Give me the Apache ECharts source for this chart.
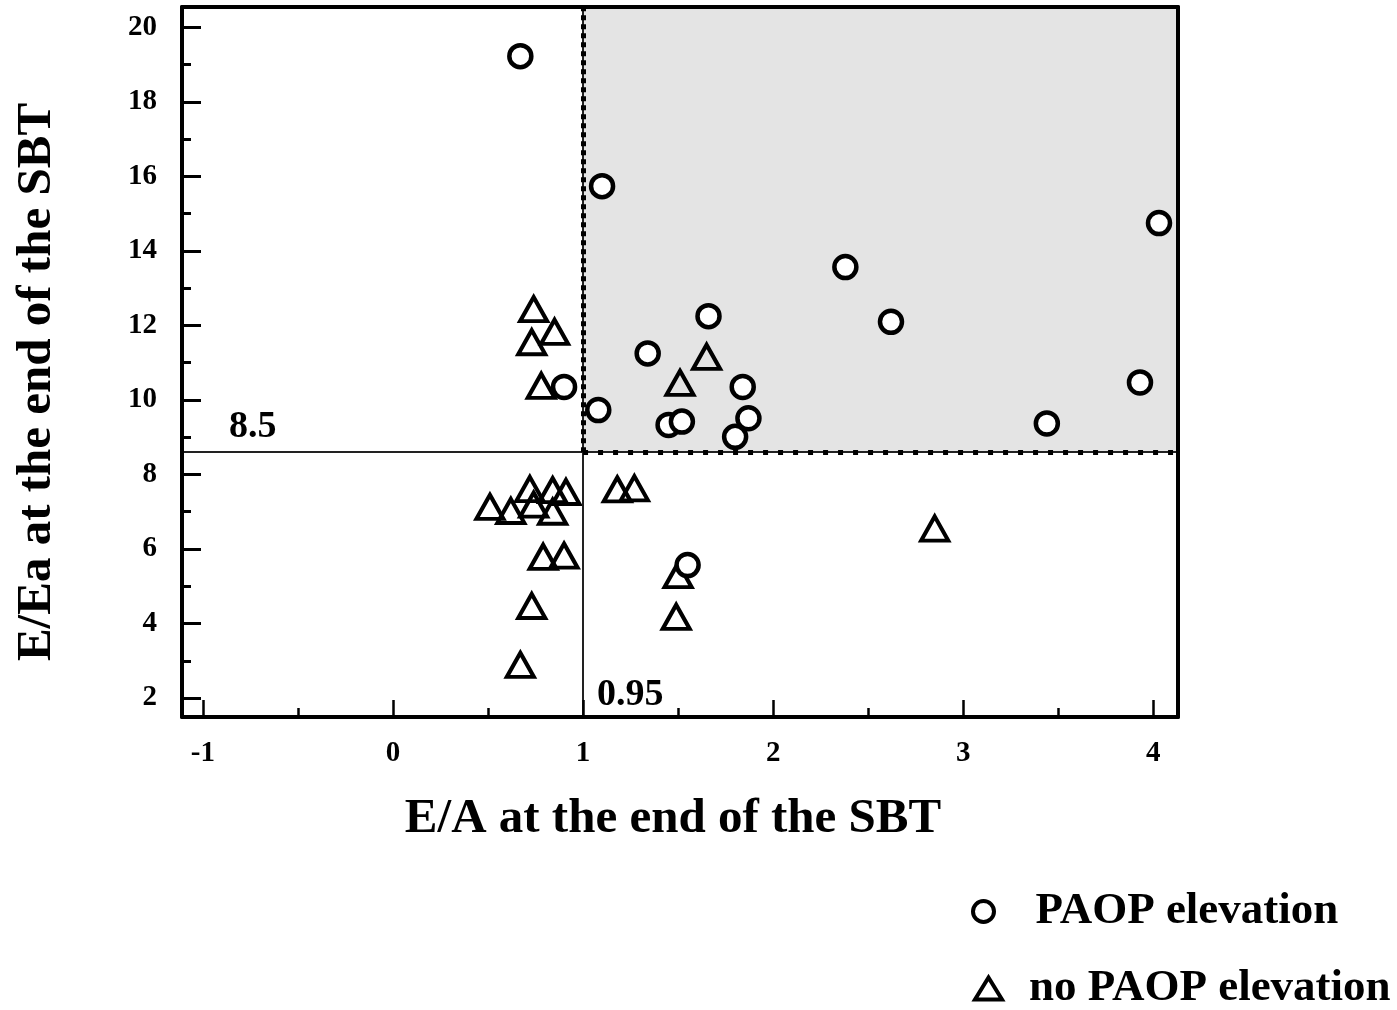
<!DOCTYPE html>
<html><head><meta charset="utf-8">
<script src="https://cdn.jsdelivr.net/npm/echarts@6/dist/echarts.min.js"></script>
<style>html,body{margin:0;padding:0;background:#fff}#c{width:1397px;height:1010px}</style>
</head><body><div id="c"></div><script>
// ---- data ----
const seriesNames = ['PAOP elevation', 'no PAOP elevation'];
const paopX = [0.67, 1.10, 2.38, 4.03, 1.66, 2.62, 1.34, 0.90, 1.84, 3.93, 1.08, 1.45, 1.52, 1.87, 1.80, 3.44, 1.55];
const paopY = [19.23, 15.74, 13.57, 14.75, 12.25, 12.10, 11.25, 10.35, 10.35, 10.47, 9.73, 9.33, 9.42, 9.51, 9.01, 9.37, 5.57];
const noPaopX = [0.74, 0.85, 0.73, 0.78, 1.65, 1.51, 0.72, 0.84, 0.91, 0.51, 0.62, 0.74, 0.84, 0.79, 0.90, 0.73, 0.67, 1.18, 1.27, 2.85, 1.50, 1.49];
const noPaopY = [12.44, 11.83, 11.55, 10.38, 11.16, 10.46, 7.61, 7.58, 7.53, 7.13, 7.02, 7.19, 7.00, 5.79, 5.82, 4.47, 2.89, 7.60, 7.63, 6.55, 5.30, 4.18];
const xTickLabels = [-1, 0, 1, 2, 3, 4];
const xMinorTicks = [-0.5, 0.5, 1.5, 2.5, 3.5];
const yTickLabels = [2, 4, 6, 8, 10, 12, 14, 16, 18, 20];
const yMinorTicks = [3, 5, 7, 9, 11, 13, 15, 17, 19];
const xRange = [-1.11, 4.13];
const yRange = [1.49, 20.55];
const cutX = 1.0, cutY = 8.6;
const cutXLabel = '0.95', cutYLabel = '8.5';
const xTitle = 'E/A at the end of the SBT';
const yTitle = 'E/Ea at the end of the SBT';

const FONT = '"Liberation Serif", "Times New Roman", serif';
const zip = (a, b) => a.map((v, i) => [v, b[i]]);

const chart = echarts.init(document.getElementById('c'), null, {renderer: 'canvas'});

const baseX = {type: 'value', min: xRange[0], max: xRange[1], splitLine: {show: false}, gridIndex: 0};
const baseY = {type: 'value', min: yRange[0], max: yRange[1], splitLine: {show: false}, gridIndex: 0};
const blackLine = {show: true, onZero: false, lineStyle: {color: '#000', width: 4}};
const noLine = {show: false, onZero: false};
const legendText = {fontFamily: FONT, fontWeight: 'bold', fontSize: 45, color: '#000'};

const option = {
  animation: false,
  backgroundColor: '#fff',
  grid: {left: 182, right: 219, top: 7, bottom: 293, containLabel: false},
  xAxis: [
    Object.assign({}, baseX, {
      position: 'bottom', z: 10,
      axisLine: blackLine,
      axisTick: {show: true, inside: true, length: 17, customValues: xTickLabels, lineStyle: {color: '#000', width: 2.5}},
      axisLabel: {show: true, customValues: xTickLabels, margin: 22, color: '#000',
        fontFamily: FONT, fontWeight: 'bold', fontSize: 29, formatter: v => String(v)},
      name: xTitle, nameLocation: 'middle', nameGap: 78,
      nameTextStyle: {fontFamily: FONT, fontWeight: 'bold', fontSize: 49, color: '#000', padding: [0, 14, 0, 0]}
    }),
    Object.assign({}, baseX, {
      position: 'bottom', z: 10,
      axisLine: noLine,
      axisTick: {show: true, inside: true, length: 9, customValues: xMinorTicks, lineStyle: {color: '#000', width: 2.5}},
      axisLabel: {show: false}
    }),
    Object.assign({}, baseX, {
      position: 'top', z: 10,
      axisLine: blackLine, axisTick: {show: false}, axisLabel: {show: false}
    })
  ],
  yAxis: [
    Object.assign({}, baseY, {
      position: 'left', z: 10,
      axisLine: blackLine,
      axisTick: {show: true, inside: true, length: 19, customValues: yTickLabels, lineStyle: {color: '#000', width: 3}},
      axisLabel: {show: true, customValues: yTickLabels, margin: 25, color: '#000',
        fontFamily: FONT, fontWeight: 'bold', fontSize: 29, formatter: v => String(v)},
      name: yTitle, nameLocation: 'middle', nameGap: 120, nameRotate: 90,
      nameTextStyle: {fontFamily: FONT, fontWeight: 'bold', fontSize: 49, color: '#000', padding: [0, 40, 0, 0]}
    }),
    Object.assign({}, baseY, {
      position: 'left', z: 10,
      axisLine: noLine,
      axisTick: {show: true, inside: true, length: 9, customValues: yMinorTicks, lineStyle: {color: '#000', width: 3}},
      axisLabel: {show: false}
    }),
    Object.assign({}, baseY, {
      position: 'right', z: 10,
      axisLine: blackLine, axisTick: {show: false}, axisLabel: {show: false}
    })
  ],
  legend: [
    {
      orient: 'vertical', left: 966, top: 884, itemWidth: 24, itemHeight: 21,
      data: [{name: seriesNames[0], icon: 'circle',
        itemStyle: {color: '#fff', borderColor: '#000', borderWidth: 4}}],
      textStyle: Object.assign({}, legendText, {padding: [0, 0, 0, 35]})
    },
    {
      orient: 'vertical', left: 968, top: 961, itemWidth: 27, itemHeight: 22,
      data: [{name: seriesNames[1], icon: 'triangle',
        itemStyle: {color: '#fff', borderColor: '#000', borderWidth: 4}}],
      textStyle: Object.assign({}, legendText, {padding: [0, 0, 0, 22]})
    }
  ],
  series: [
    {
      name: seriesNames[1], type: 'scatter', xAxisIndex: 0, yAxisIndex: 0,
      data: zip(noPaopX, noPaopY),
      symbol: 'triangle', symbolSize: [27, 24], z: 4,
      itemStyle: {color: 'rgba(255,255,255,0)', borderColor: '#000', borderWidth: 4, opacity: 1},
      markArea: {
        silent: true,
        itemStyle: {color: '#e4e4e4'},
        data: [[{xAxis: cutX, yAxis: cutY}, {xAxis: xRange[1], yAxis: yRange[1]}]]
      },
      markLine: {
        silent: true, symbol: ['none', 'none'], label: {show: false},
        data: [
          [{coord: [xRange[0], cutY], lineStyle: {color: '#222', width: 2, type: 'solid'}}, {coord: [xRange[1], cutY]}],
          [{coord: [cutX, yRange[0]], lineStyle: {color: '#222', width: 2, type: 'solid'}}, {coord: [cutX, yRange[1]]}],
          [{coord: [cutX, cutY], lineStyle: {color: '#000', width: 5, type: [5, 4]}}, {coord: [cutX, yRange[1]]}],
          [{coord: [cutX, cutY], lineStyle: {color: '#000', width: 5, type: [5, 10]}}, {coord: [xRange[1], cutY]}]
        ]
      }
    },
    {
      name: seriesNames[0], type: 'scatter', xAxisIndex: 0, yAxisIndex: 0,
      data: zip(paopX, paopY),
      symbol: 'circle', symbolSize: 22, z: 5,
      itemStyle: {color: '#fff', borderColor: '#000', borderWidth: 4.5, opacity: 1}
    }
  ]
};
chart.setOption(option);

// threshold annotations positioned through the chart's own scales
const pY = chart.convertToPixel({xAxisIndex: 0, yAxisIndex: 0}, [xRange[0], cutY]);
const pX = chart.convertToPixel({xAxisIndex: 0, yAxisIndex: 0}, [cutX, yRange[0]]);
chart.setOption({
  graphic: [
    {type: 'text', x: pY[0] + 47, y: pY[1] - 6, z: 20,
      style: {text: cutYLabel, fill: '#000', font: 'bold 38px ' + FONT, textAlign: 'left', textVerticalAlign: 'bottom'}},
    {type: 'text', x: pX[0] + 14, y: pX[1] - 22, z: 20,
      style: {text: cutXLabel, fill: '#000', font: 'bold 38px ' + FONT, textAlign: 'left', textVerticalAlign: 'middle'}}
  ]
});
</script></body></html>
